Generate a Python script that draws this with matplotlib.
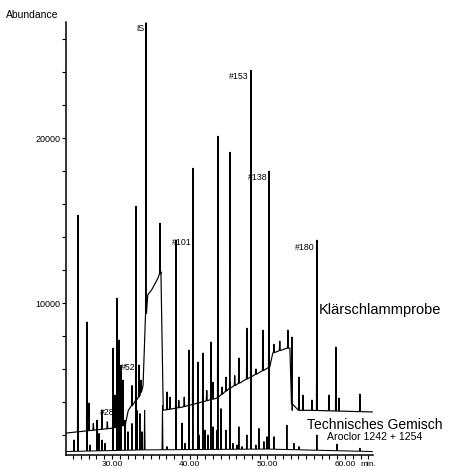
import numpy as np
import matplotlib
matplotlib.use("Agg")
import matplotlib.pyplot as plt
from matplotlib.ticker import MultipleLocator, FixedLocator, FormatStrFormatter

plt.rcParams['font.family'] = ['Liberation Sans', 'DejaVu Sans']

# --- Klärschlammprobe (sludge sample): baseline knots and peak apexes ---
sample_base_t = [24.1, 30.1, 31.7, 32.1, 33.6, 34.0, 34.4, 34.6, 35.1, 35.5, 35.9, 36.3,
                 36.6, 39.1, 43.5, 45.2, 47.8, 50.3, 50.7, 52.5, 52.9, 53.2, 55.5, 63.5]
sample_base_v = [2120, 2420, 2600, 3500, 4400, 5000, 9600, 10500, 10800, 11150, 11500, 11900,
                 3500, 3700, 4240, 4850, 5510, 6120, 6970, 7270, 7270, 3500, 3500, 3400]

sample_peak_t = [25.62, 26.78, 27.04, 27.60, 28.07, 28.71, 29.40, 30.13, 30.39, 30.51,
                 30.64, 30.90, 31.16, 31.42, 32.57, 33.09, 33.47, 33.73, 34.38, 36.18,
                 37.08, 37.46, 38.24, 38.60, 39.30, 39.91, 40.42, 41.07, 41.71, 42.20,
                 42.74, 43.00, 43.64, 44.16, 44.67, 45.19, 45.80, 46.34, 47.37, 47.89,
                 48.53, 49.43, 50.21, 50.85, 51.60, 52.65, 53.17, 54.07, 54.58, 55.74,
                 56.38, 57.93, 58.83, 59.22, 61.92]
sample_peak_v = [15330, 8850, 3940, 2700, 2900, 3500, 2800, 7270, 4420, 3510,
                 10300, 7760, 6240, 5330, 5000, 15880, 6240, 5330, 27000, 14850,
                 4610, 4300, 13820, 4100, 4300, 7150, 18180, 6420, 6970, 4700,
                 7640, 5200, 20120, 4910, 5510, 19150, 5600, 6670, 8480, 24120,
                 6000, 8360, 18000, 7500, 7700, 8360, 7940, 5510, 4420, 4120,
                 13820, 4420, 7330, 4240, 4480]

# --- Technisches Gemisch (Aroclor 1242 + 1254) ---
mix_base_t = [24.1, 34.0, 50.0, 63.5]
mix_base_v = [1000, 1100, 1150, 1000]

mix_peak_t = [25.11, 25.62, 26.78, 27.17, 28.07, 28.33, 28.71, 29.10, 30.13, 30.64,
              30.90, 31.16, 31.67, 32.06, 32.57, 33.09, 33.22, 33.60, 33.86, 34.20,
              36.50, 37.08, 38.24, 39.01, 39.40, 39.91, 40.42, 41.07, 41.20, 41.71,
              41.97, 42.36, 42.74, 43.00, 43.51, 43.64, 44.03, 44.67, 45.19, 45.57,
              46.09, 46.34, 46.73, 47.37, 47.89, 48.53, 48.92, 49.56, 49.95, 50.21,
              50.85, 52.52, 53.42, 54.07, 56.38, 58.96, 61.92]
mix_peak_v = [1700, 2600, 2600, 1400, 2480, 2100, 1700, 1500, 3000, 4000,
              3500, 3000, 2900, 2200, 2700, 4600, 3500, 3300, 2200, 3500,
              3800, 1300, 4200, 2730, 1500, 4000, 4200, 4000, 2000, 4300,
              2300, 2000, 4500, 2500, 2300, 4700, 3600, 2300, 5200, 1500,
              1400, 2500, 1300, 2000, 5900, 1400, 2400, 1600, 1900, 6500,
              1900, 2600, 1500, 1300, 2000, 1450, 1200]


def build_trace(base_t, base_v, peak_t, peak_v, hw=0.06):
    # narrow triangular peaks standing on a piecewise-linear baseline
    base_t = np.asarray(base_t, float)
    base_v = np.asarray(base_v, float)
    pt = np.asarray(peak_t, float)
    pv = np.asarray(peak_v, float)
    foot = np.interp(pt, base_t, base_v)
    t = np.concatenate([base_t, pt - hw, pt, pt + hw])
    v = np.concatenate([base_v, foot, pv, foot])
    order = np.argsort(t, kind='stable')
    return t[order], v[order]


fig = plt.figure(figsize=(4.5, 4.69), dpi=100)
ax = fig.add_axes([66 / 450, 14 / 469, 307 / 450, 433 / 469])

t_s, v_s = build_trace(sample_base_t, sample_base_v, sample_peak_t, sample_peak_v)
t_m, v_m = build_trace(mix_base_t, mix_base_v, mix_peak_t, mix_peak_v)
ax.plot(t_m, v_m, color='black', lw=0.75)
ax.plot(t_s, v_s, color='black', lw=0.85)

ax.set_xlim(24.08, 63.6)
ax.set_ylim(790, 27050)

for side in ['top', 'right']:
    ax.spines[side].set_visible(False)
for side in ['left', 'bottom']:
    ax.spines[side].set_linewidth(1.1)

ax.xaxis.set_major_locator(FixedLocator([30, 40, 50, 60]))
ax.xaxis.set_major_formatter(FormatStrFormatter('%.2f'))
ax.xaxis.set_minor_locator(MultipleLocator(1))
ax.yaxis.set_major_locator(FixedLocator([10000, 20000]))
ax.yaxis.set_minor_locator(MultipleLocator(2000))
ax.tick_params(which='both', direction='out', length=3, width=0.8)
ax.tick_params(axis='x', labelsize=6, pad=1.5)
ax.tick_params(axis='y', labelsize=6.5, pad=1)

ax.text(62.0, -0.013, 'min.', transform=ax.get_xaxis_transform(),
        ha='left', va='top', fontsize=6)
fig.text(6 / 450, 1 - 15 / 469, 'Abundance', ha='left', va='center', fontsize=7.5)

# congener labels
lab = dict(fontsize=6.3, va='center')
ax.text(34.12, 26660, 'IS', ha='right', **lab)
ax.text(47.63, 23760, '#153', ha='right', **lab)
ax.text(50.08, 17630, '#138', ha='right', **lab)
ax.text(56.13, 13390, '#180', ha='right', **lab)
ax.text(40.30, 13700, '#101', ha='right', **lab)
ax.text(31.20, 6120, '#52', ha='left', **lab)
ax.text(30.39, 3390, '#28', ha='right', **lab)

ax.text(56.6, 9570, 'Klärschlammprobe', ha='left', va='center', fontsize=10.5, clip_on=False)
ax.text(55.1, 2610, 'Technisches Gemisch', ha='left', va='center', fontsize=10, clip_on=False)
ax.text(57.7, 1880, 'Aroclor 1242 + 1254', ha='left', va='center', fontsize=7.6, clip_on=False)

fig.savefig('out.png', dpi=100)
